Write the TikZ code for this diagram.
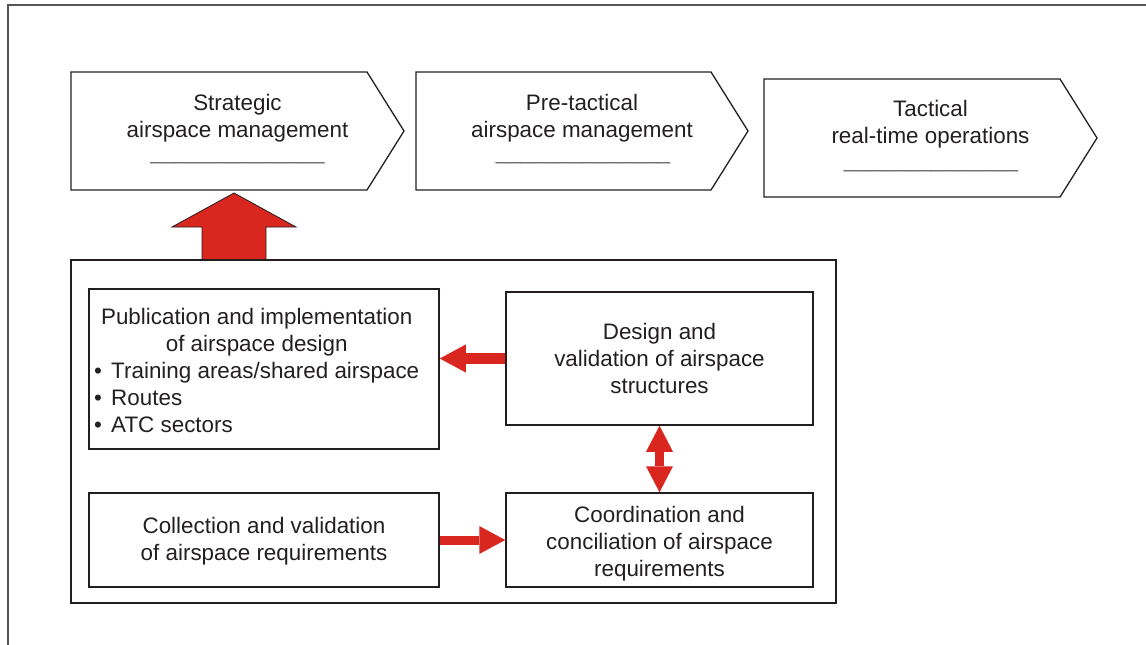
\documentclass[tikz,border=0pt]{standalone}
\usepackage{fontspec}
\setmainfont{Liberation Sans}
\usetikzlibrary{arrows.meta,calc}
\definecolor{ink}{HTML}{231F20}
\definecolor{arrowred}{HTML}{D9261E}
\definecolor{framegray}{HTML}{555555}
\definecolor{rulegray}{HTML}{707070}
\begin{document}
\begin{tikzpicture}[x=1pt,y=-1pt,
  every node/.style={font=\fontsize{22.4}{27}\selectfont, text=ink},
  chevron/.style={draw=ink, line width=1.3pt, line join=miter},
  phasetext/.style={align=center, inner sep=0pt},
  blank/.style={text=rulegray, inner sep=0pt, anchor=base},
  box/.style={draw=ink, line width=1.5pt, align=center, inner sep=0pt},
  flow/.style={draw=arrowred, line width=10pt, -{Triangle[length=26pt,width=28pt,line width=0pt]}},
  twoway/.style={draw=arrowred, line width=9pt, {Triangle[length=26pt,width=27pt,line width=0pt]}-{Triangle[length=26pt,width=27pt,line width=0pt]}},
  bigarrow/.style={fill=arrowred, draw=ink, line width=0.8pt, line join=miter}
]
\useasboundingbox (0,0) rectangle (1146,645);
% frame
\draw[framegray, line width=2pt] (8,645) -- (8,5) -- (1146,5);

% phase chevrons
\draw[chevron] (71,72) -- (367,72) -- (404,131) -- (367,190) -- (71,190) -- cycle;
\draw[chevron] (416,72) -- (711,72) -- (748,131) -- (711,190) -- (416,190) -- cycle;
\draw[chevron] (764,79) -- (1060,79) -- (1097,138) -- (1060,197) -- (764,197) -- cycle;

\node[phasetext] (strat) at (237.5,118) {Strategic\\airspace management};
\node[blank] (stratline) at (237.5,159.5) {\_\_\_\_\_\_\_\_\_\_\_\_\_\_};
\node[phasetext] (pretac) at (582,118) {Pre-tactical\\airspace management};
\node[blank] (pretacline) at (583,159.5) {\_\_\_\_\_\_\_\_\_\_\_\_\_\_};
\node[phasetext] (tac) at (930.5,124.5) {Tactical\\real-time operations};
\node[blank] (tacline) at (931,167) {\_\_\_\_\_\_\_\_\_\_\_\_\_\_};

% big arrow
\coordinate (bigtip) at (234,193);
\coordinate (bigbase) at (234,260);
\draw[bigarrow] (bigtip) -- ++(62,34) -- ++(-30,0) -- ($(bigbase)+(32,0)$)
  -- ($(bigbase)+(-32,0)$) -- ($(bigtip)+(-32,34)$) -- ++(-30,0) -- cycle;

% outer box
\node[box, minimum width=765pt, minimum height=343pt] (outer) at (453.5,431.5) {};

% inner boxes
\node[box, minimum width=350pt, minimum height=160pt] (pub) at (264,369) {};
\node[anchor=west, inner sep=0pt] (pubtext) at (94,372.6)
  {\begin{tabular}{@{}l@{}}
   \multicolumn{1}{@{}c@{}}{Publication and implementation}\\
   \multicolumn{1}{@{}c@{}}{of airspace design}\\
   •\hspace{3pt} Training areas/shared airspace\\
   •\hspace{3pt} Routes\\
   •\hspace{3pt} ATC sectors
   \end{tabular}};
\node[box, minimum width=307pt, minimum height=133pt] (design) at (659.5,358.5)
  {Design and\\validation of airspace\\structures};
\node[box, minimum width=350pt, minimum height=94pt] (coll) at (264,540)
  {\rule{0pt}{19pt}Collection and validation\\of airspace requirements};
\node[box, minimum width=307pt, minimum height=94pt] (coord) at (659.5,540)
  {\rule{0pt}{24pt}Coordination and\\conciliation of airspace\\requirements};

% connectors
\draw[flow, line width=11pt] (design.west) -- (design.west -| pub.east);
\draw[flow, line width=9pt] (coll.east) -- (coord.west);
\draw[twoway] (design.south) -- (coord.north);
\end{tikzpicture}
\end{document}
